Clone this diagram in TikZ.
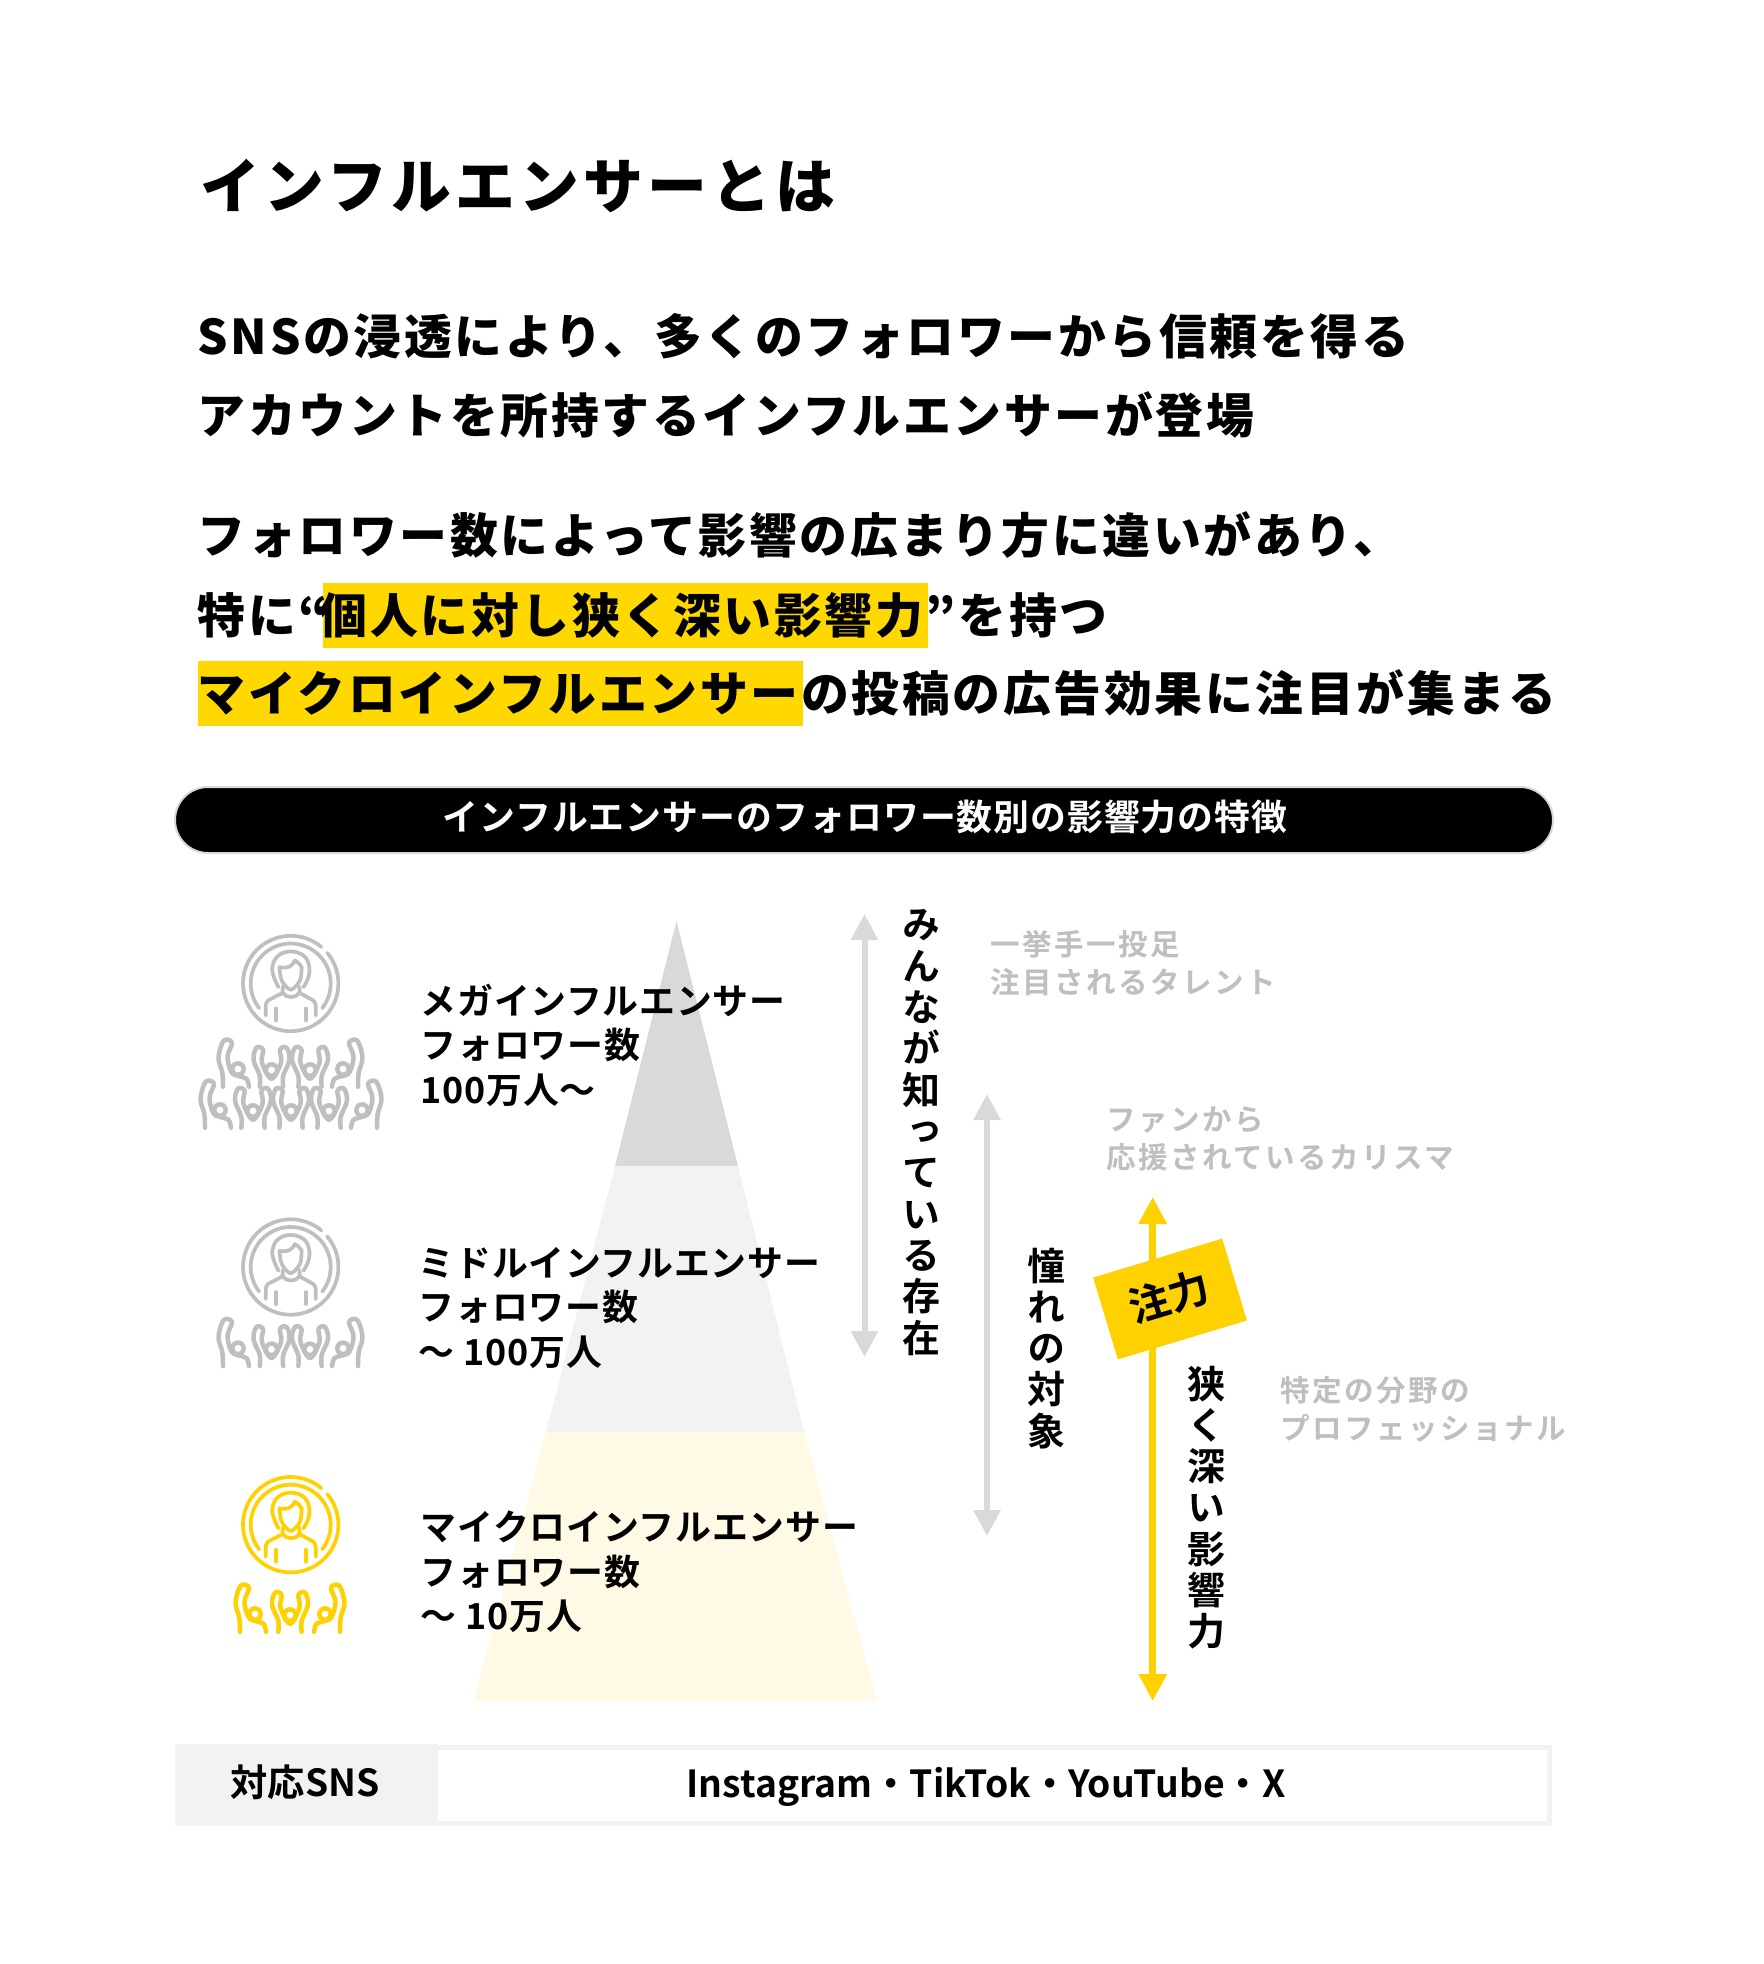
\documentclass[tikz,border=0pt]{standalone}
\usepackage{fontspec}
\setmainfont{Noto Sans CJK JP}[UprightFont=* Bold]
\newfontfamily\heavyfont{Noto Sans CJK JP}[UprightFont=* Black]
\usetikzlibrary{arrows.meta}
\definecolor{hiyellow}{HTML}{FFD800}
\definecolor{iconyellow}{HTML}{FFD100}
\definecolor{softyellow}{HTML}{FFF9E6}
\definecolor{greytop}{HTML}{D9D9D9}
\definecolor{greymid}{HTML}{F2F2F2}
\definecolor{greytext}{HTML}{BFBFBF}
\tikzset{
  txt/.style={inner sep=0,anchor=west,text height=.88em,text depth=.12em},
  titletext/.style={txt,font=\heavyfont\fontsize{17}{20}\selectfont\addfontfeature{LetterSpace=7.2}},
  bodytext/.style={txt,font=\heavyfont\fontsize{13.6}{16}\selectfont\addfontfeature{LetterSpace=5.6}},
  hilite/.style={fill=hiyellow,inner sep=0,minimum height=65*.01cm,anchor=west},
  barlabel/.style={txt,anchor=center,white,font=\fontsize{10.2}{12}\selectfont\addfontfeature{LetterSpace=2.6}},
  tierlabel/.style={inner sep=0,anchor=west,align=left,font=\fontsize{10.2}{12.66}\selectfont\addfontfeature{LetterSpace=2.2}},
  greylabel/.style={inner sep=0,anchor=west,align=left,greytext,font=\fontsize{8.4}{10.8}\selectfont\addfontfeature{LetterSpace=8.3}},
  vertlabel/.style={inner sep=0,anchor=north,align=center,font=\fontsize{10.8}{11.75}\selectfont\addfontfeature{RawFeature=+vert}},
  greyarrow/.style={draw=greytop,line width=6*.01cm,{Triangle[length=.26cm,width=.26cm]}-{Triangle[length=.26cm,width=.26cm]}},
  yellowarrow/.style={draw=iconyellow,line width=7*.01cm,{Triangle[length=.27cm,width=.27cm]}-{Triangle[length=.27cm,width=.27cm]}},
  iconline/.style={line width=3.7*.01cm,line cap=round,line join=round},
  fanline/.style={line width=4.5*.01cm,line cap=round,line join=round},
  person/.pic={
    \draw[iconline] (-40:47.7) arc[start angle=-40,end angle=310,radius=47.7];
    \draw[iconline] (-218:40) arc[start angle=-218,end angle=38,radius=40];
    \draw[iconline] plot[smooth,tension=.7] coordinates {(-12.3,3.7) (-17.3,-8) (-18,-18) (-12.3,-28) (0,-32) (12.7,-28) (18.3,-18) (17.7,-6.3) (12.7,3.7)};
    \draw[iconline] plot[smooth,tension=.5] coordinates {(-11.3,-16.3) (-9,-3) (0,6.3) (9.3,-3) (11,-16.3)};
    \draw[iconline] (-11.3,-16.3) to[bend right=15] (-1,-17) to[bend right=15] (4.3,-23) to[bend left=15] (11,-16.3);
    \draw[iconline] (-8,3) -- (-8,9.3) to[bend right=60] (8.7,9.3) -- (8.7,3);
    \draw[iconline] (-8,9.3) -- (-20,15.5) to[bend right=35] (-25,23) -- (-25,32);
    \draw[iconline] (8.7,9.3) -- (20,15.5) to[bend left=35] (25,23) -- (25,32);
    \draw[iconline] (-15,25) -- (-15,37);
    \draw[iconline] (15.3,25) -- (15.3,37);
  },
  fanmid/.pic={
    \draw[fanline] (0,-16.7) circle(5.7);
    \draw[fanline] plot[smooth,tension=.6] coordinates {(-11.7,0) (-11.7,-11) (-18,-27) (-15,-39) (-8.5,-37) (-9.5,-24) (0,-8) (9.5,-24) (8.5,-37) (15,-39) (18,-27) (11.7,-11) (11.7,0)};
  },
  fanside/.pic={
    \draw[fanline] (0,-17.7) circle(5.7);
    \draw[fanline] plot[smooth,tension=.6] coordinates {(-15,0) (-15.7,-14) (-19.5,-29) (-14.3,-46) (-6,-44) (-10.5,-30) (-6.5,-14.5) (1,-10.5) (8.5,-8) (11,0)};
  },
}
\begin{document}
\begin{tikzpicture}[x=.01cm,y=-.01cm]
\useasboundingbox (0,0) rectangle (1764,1964);
\fill[white] (0,0) rectangle (1764,1964);

% highlights first, text goes on top
\node[hilite,minimum width=605*.01cm] (markA) at (322,615) {};
\node[hilite,minimum width=605*.01cm] (markB) at (197,693) {};

\node[titletext] (heading) at (200,195) {インフルエンサーとは};
\node[bodytext] (lineA) at (197,341) {SNSの浸透により、多くのフォロワーから信頼を得る};
\node[bodytext] (lineB) at (197,420) {アカウントを所持するインフルエンサーが登場};
\node[bodytext] (lineC) at (197,540) {フォロワー数によって影響の広まり方に違いがあり、};
\node[bodytext] (lineD) at (197,620) {特に“\kern-2.6pt 個人に対し狭く深い影響力”を持つ};
\node[bodytext] (lineE) at (197,698) {マイクロインフルエンサーの投稿の広告効果に注目が集まる};

\draw[greytop,line width=2*.01cm,fill=black,rounded corners=33*.01cm] (175,787) rectangle (1553,853);
\node[barlabel] (barlabel) at (865,817) {インフルエンサーのフォロワー数別の影響力の特徴};

% pyramid
\fill[greytop] (676.5,921) -- (738,1166) -- (615,1166) -- cycle;
\fill[greymid] (615,1166) -- (738,1166) -- (804,1432) -- (546,1432) -- cycle;
\fill[softyellow] (546,1432) -- (804,1432) -- (877,1701) -- (473.6,1701) -- cycle;

% icons
\begin{scope}[color=greytext]
  \pic at (290.7,983.5) {person};
  \pic at (290.7,1267) {person};
  \foreach \yy in {1086.7,1366} {
    \pic at (238,\yy) {fanside};
    \pic at (271.5,\yy) {fanmid};
    \pic at (310,\yy) {fanmid};
    \pic[xscale=-1] at (343,\yy) {fanside};
  }
  \pic at (220,1127.7) {fanside};
  \foreach \xx in {253,291,329} {\pic at (\xx,1127.7) {fanmid};}
  \pic[xscale=-1] at (362,1127.7) {fanside};
\end{scope}
\begin{scope}[color=iconyellow]
  \pic at (290.7,1524.7) {person};
  \pic at (255,1631.7) {fanside};
  \pic at (290,1631.7) {fanmid};
  \pic[xscale=-1] at (325,1631.7) {fanside};
\end{scope}

\node[tierlabel] (mega) at (420,1045) {メガインフルエンサー\\フォロワー数\\100万人〜};
\node[tierlabel] (middle) at (418,1308) {ミドルインフルエンサー\\フォロワー数\\〜 100万人};
\node[tierlabel] (micro) at (420,1572) {マイクロインフルエンサー\\フォロワー数\\〜 10万人};

% arrows
\coordinate (reachtop) at (864.5,914);
\coordinate (reachend) at (864.5,1357);
\coordinate (longtop) at (987,1094);
\coordinate (longend) at (987,1536);
\coordinate (focustop) at (1152.7,1197);
\coordinate (focusend) at (1152.7,1701);
\draw[greyarrow] (reachtop) -- (reachend);
\draw[greyarrow] (longtop) -- (longend);
\draw[yellowarrow] (focustop) -- (focusend);
\node[fill=iconyellow,rotate=16.8,minimum width=134.8*.01cm,minimum height=85.5*.01cm,inner sep=0,text height=.88em,text depth=.12em,font=\fontsize{11.6}{12}\selectfont] (focustag) at (1170,1299) {注力};

\node[vertlabel] (reachtext) at (921,909) {み\\ん\\な\\が\\知\\っ\\て\\い\\る\\存\\在};
\node[vertlabel] (longtext) at (1046,1247) {憧\\れ\\の\\対\\象};
\node[vertlabel] (deeptext) at (1206,1365) {狭\\く\\深\\い\\影\\響\\力};

\node[greylabel] (talent) at (990,963) {一挙手一投足\\注目されるタレント};
\node[greylabel] (charisma) at (1106,1139) {ファンから\\応援されているカリスマ};
\node[greylabel] (expert) at (1280,1409) {特定の分野の\\プロフェッショナル};

% sns row
\draw[greymid,line width=5*.01cm] (177,1747) rectangle (1549,1823);
\node[fill=greymid,inner sep=0,minimum width=262*.01cm,minimum height=82*.01cm,anchor=west] (snshead) at (175,1785) {};
\node[inner sep=0,text height=.88em,text depth=.12em,font=\fontsize{10.6}{12}\selectfont] (snstitle) at (305,1783) {対応SNS};
\node[inner sep=0,font=\fontsize{10.6}{12}\selectfont] (snslist) at (986,1787) {Instagram・TikTok・YouTube・X};
\end{tikzpicture}
\end{document}
